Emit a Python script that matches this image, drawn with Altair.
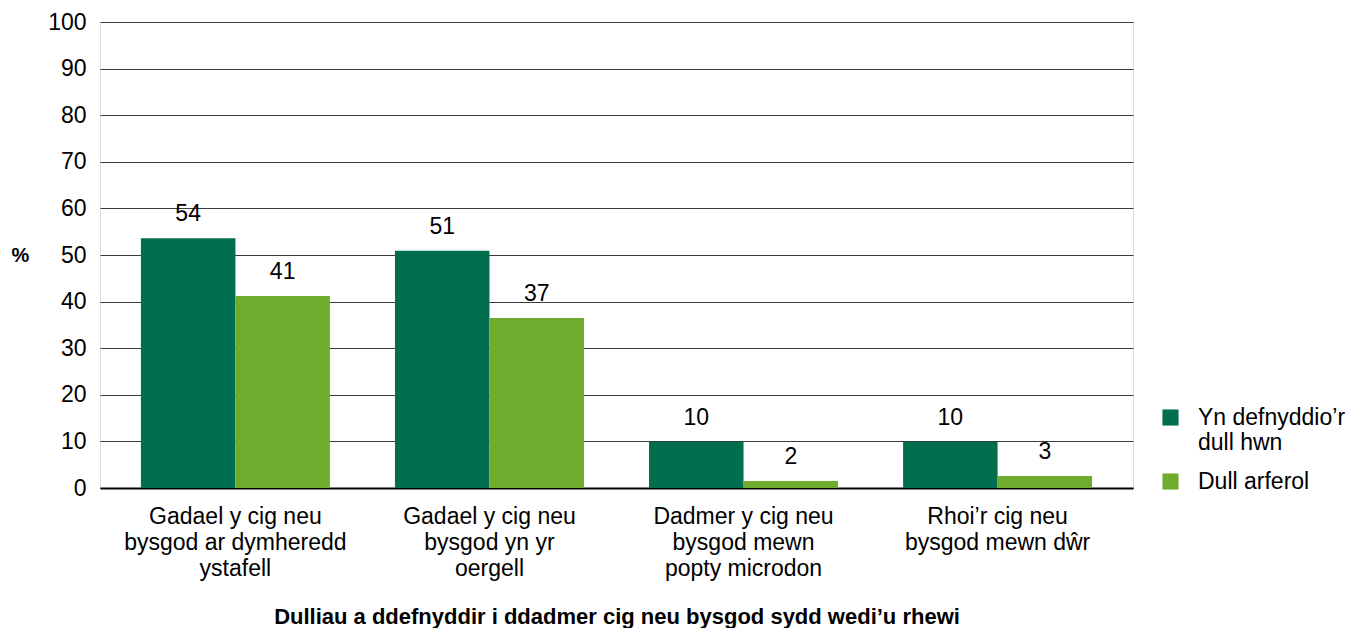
import altair as alt
import pandas as pd

categories = [
    "Gadael y cig neu|bysgod ar dymheredd|ystafell",
    "Gadael y cig neu|bysgod yn yr|oergell",
    "Dadmer y cig neu|bysgod mewn|popty microdon",
    "Rhoi’r cig neu|bysgod mewn dŵr",
]
series = ["Yn defnyddio’r dull hwn", "Dull arferol"]
values_method = [53.6, 50.9, 9.9, 9.9]
values_usual = [41.2, 36.5, 1.5, 2.6]
labels_method = [54, 51, 10, 10]
labels_usual = [41, 37, 2, 3]
colors = ["#006E4F", "#6FAC2E"]
y_ticks = [0, 10, 20, 30, 40, 50, 60, 70, 80, 90, 100]

rows = []
for i, c in enumerate(categories):
    rows.append({"cat": c, "series": series[0], "value": values_method[i], "label": labels_method[i]})
    rows.append({"cat": c, "series": series[1], "value": values_usual[i], "label": labels_usual[i]})
df = pd.DataFrame(rows)

FONT = "Liberation Sans"

x = alt.X(
    "cat:N",
    sort=categories,
    scale=alt.Scale(paddingInner=0.256, paddingOuter=0.161),
    axis=alt.Axis(
        title="Dulliau a ddefnyddir i ddadmer cig neu bysgod sydd wedi’u rhewi",
        labelExpr="split(datum.label, '|')",
        labelAngle=0,
        labelFont=FONT,
        labelFontSize=23,
        labelColor="#000000",
        labelLineHeight=26,
        labelPadding=17,
        labelLimit=400,
        ticks=False,
        grid=False,
        domainColor="#000000",
        domainWidth=2,
        titleFont=FONT,
        titleFontSize=22,
        titleFontWeight="bold",
        titleColor="#000000",
        titlePadding=26,
    ),
)
xoff = alt.XOffset("series:N", sort=series)

base = alt.Chart(df)

bars = base.mark_bar().encode(
    x=x,
    xOffset=xoff,
    y=alt.Y(
        "value:Q",
        scale=alt.Scale(domain=[0, 100], nice=False),
        axis=alt.Axis(
            values=y_ticks,
            title="%",
            titleAngle=0,
            titleFont=FONT,
            titleFontSize=20,
            titleFontWeight="bold",
            titleColor="#000000",
            titleX=-80,
            titleY=233,
            titleAlign="center",
            titleBaseline="middle",
            labelFont=FONT,
            labelFontSize=23,
            labelColor="#000000",
            labelPadding=14,
            ticks=False,
            domain=False,
            grid=True,
            gridColor="#3a3a3a",
            gridWidth=1,
        ),
    ),
    color=alt.Color(
        "series:N",
        sort=series,
        scale=alt.Scale(domain=series, range=colors),
        legend=alt.Legend(
            title=None,
            orient="none",
            legendX=1059,
            legendY=384,
            symbolType="square",
            symbolSize=260,
            symbolStrokeWidth=0,
            symbolOpacity=1,
            labelFont=FONT,
            labelFontSize=23,
            labelColor="#000000",
            labelOffset=16,
            labelLimit=300,
            rowPadding=15,
            labelExpr="datum.label == 'Yn defnyddio’r dull hwn' ? ['Yn defnyddio’r', 'dull hwn'] : datum.label",
        ),
    ),
)

text = base.mark_text(
    baseline="bottom", dy=-12, font=FONT, fontSize=23, color="#000000"
).encode(
    x=x,
    xOffset=xoff,
    y=alt.Y("value:Q"),
    text=alt.Text("label:Q"),
)

chart = (
    alt.layer(bars, text)
    .properties(
        width=1033,
        height=466,
        autosize=alt.AutoSizeParams(type="none"),
        padding={"left": 92, "top": 14, "right": 216, "bottom": 140},
    )
    .configure_view(stroke="transparent", strokeWidth=0)
    .configure(background="#ffffff")
)

chart.save("out.html", embed_options={"renderer": "svg", "actions": False})
